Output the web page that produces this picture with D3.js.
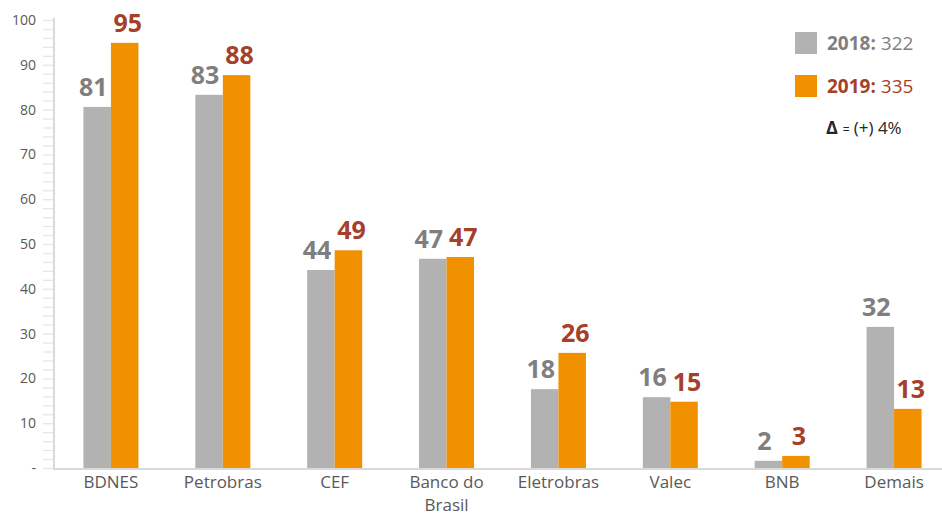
<!DOCTYPE html>
<html>
<head>
<meta charset="utf-8">
<script src="https://cdn.jsdelivr.net/npm/d3@7"></script>
<style>
  body { margin: 0; background: #fff; }
  svg { display: block; font-family: "Open Sans", Lato, sans-serif; }
</style>
</head>
<body>
<svg id="chart" width="942" height="516"></svg>
<script>
// data
const categories = ["BDNES", "Petrobras", "CEF", "Banco do Brasil", "Eletrobras", "Valec", "BNB", "Demais"]
const values2018 = [80.6, 83.3, 44.2, 46.7, 17.6, 15.8, 1.6, 31.5]
const values2019 = [94.9, 87.7, 48.6, 47.1, 25.7, 14.8, 2.7, 13.2]
const yTicks = [0, 10, 20, 30, 40, 50, 60, 70, 80, 90, 100]
const legendItems = [
  { year: "2018", total: 322 },
  { year: "2019", total: 335 }
]
const deltaText = "(+) 4%"

const grey = "#b2b2b2", orange = "#f29100"
const greyText = "#7f7f7f", rustText = "#a5402a"

const svg = d3.select("#chart")
const plotLeft = 55, plotRight = 950, plotTop = 20, plotBottom = 468

const x = d3.scaleBand().domain(categories).range([plotLeft, plotRight])
const y = d3.scaleLinear().domain([0, 100]).range([plotBottom, plotTop])
const barW = 27.5

// y axis: minor ticks every 2 units
svg.append("g")
  .attr("transform", `translate(${plotLeft - 1},0)`)
  .call(d3.axisLeft(y).tickValues(d3.range(0, 101, 2)).tickSize(11).tickFormat(""))
  .call(g => g.select(".domain").remove())
  .call(g => g.selectAll("line").attr("stroke", "#e6e6e6").attr("stroke-width", 1.3))

// y axis labels
svg.append("g")
  .attr("transform", `translate(${plotLeft - 1},0)`)
  .call(d3.axisLeft(y).tickValues(yTicks).tickSize(0).tickPadding(18)
    .tickFormat(d => d === 0 ? "-" : d))
  .call(g => g.select(".domain").remove())
  .call(g => g.selectAll("text").attr("fill", "#595959").style("font-size", "14px")
    .style("font-family", "'Open Sans', sans-serif"))

// axis lines
svg.append("line")
  .attr("x1", plotLeft - 1).attr("x2", plotLeft - 1).attr("y1", plotTop - 2).attr("y2", plotBottom + 1)
  .attr("stroke", "#d9d9d9").attr("stroke-width", 2)

// labels sit a little outward from the bar centres, as in the original
const series = [
  { values: values2018, color: grey, text: greyText, offset: -barW, nudge: -4 },
  { values: values2019, color: orange, text: rustText, offset: 0, nudge: 3 }
]

series.forEach(s => {
  const g = svg.append("g")
  g.selectAll("rect")
    .data(categories)
    .join("rect")
    .attr("x", (d, i) => x(d) + x.bandwidth() / 2 + s.offset)
    .attr("y", (d, i) => y(s.values[i]))
    .attr("width", barW)
    .attr("height", (d, i) => y(0) - y(s.values[i]))
    .attr("fill", s.color)
  g.selectAll("text")
    .data(categories)
    .join("text")
    .attr("x", (d, i) => x(d) + x.bandwidth() / 2 + s.offset + barW / 2 + s.nudge)
    .attr("y", (d, i) => y(s.values[i]) - 11)
    .attr("text-anchor", "middle")
    .attr("fill", s.text)
    .style("font-size", "25px")
    .style("font-weight", "bold")
    .text((d, i) => d3.format(".0f")(s.values[i]))
})

svg.append("line")
  .attr("x1", plotLeft - 2).attr("x2", 942).attr("y1", plotBottom + 1).attr("y2", plotBottom + 1)
  .attr("stroke", "#d9d9d9").attr("stroke-width", 2)

// category labels, wrapped like "Banco do / Brasil"
svg.append("g").selectAll("text")
  .data(categories)
  .join("text")
  .attr("x", d => x(d) + x.bandwidth() / 2)
  .attr("y", 488)
  .attr("text-anchor", "middle")
  .attr("fill", "#595959")
  .style("font-size", "17px")
  .each(function(d) {
    const lines = d === "Banco do Brasil" ? ["Banco do", "Brasil"] : [d]
    d3.select(this).selectAll("tspan")
      .data(lines)
      .join("tspan")
      .attr("x", x(d) + x.bandwidth() / 2)
      .attr("dy", (l, i) => i ? 23 : 0)
      .text(l => l)
  })

// legend
const legend = svg.append("g")
legendItems.forEach((item, i) => {
  const yy = 32 + i * 43
  legend.append("rect")
    .attr("x", 795).attr("y", yy).attr("width", 22).attr("height", 22)
    .attr("fill", series[i].color)
  const t = legend.append("text")
    .attr("x", 827).attr("y", yy + 18)
    .attr("fill", series[i].text)
    .style("font-size", "19px")
  t.append("tspan").style("font-weight", "bold").text(item.year + ":")
  t.append("tspan").text(" " + item.total)
})

const delta = legend.append("text")
  .attr("x", 826).attr("y", 134)
  .attr("fill", "#262626")
delta.append("tspan").style("font-size", "18px").style("font-weight", "bold").text("Δ")
delta.append("tspan").attr("dx", 5).style("font-size", "12px").text("=")
delta.append("tspan").attr("dx", 4).style("font-size", "17px").text(deltaText)
</script>
</body>
</html>
